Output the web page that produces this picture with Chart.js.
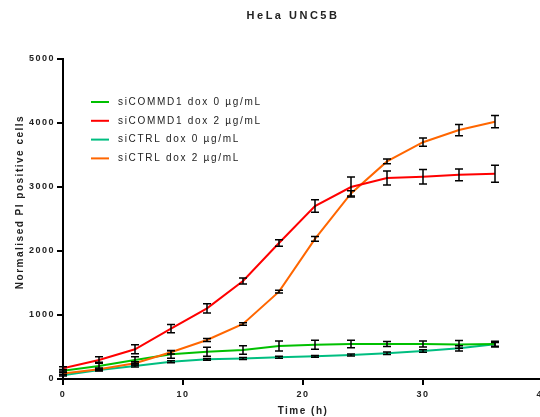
<!DOCTYPE html>
<html>
<head>
<meta charset="utf-8">
<script src="https://cdn.jsdelivr.net/npm/chart.js@4"></script>
<style>
  html, body { margin: 0; padding: 0; background: #fff; overflow: hidden; }
  #wrap { width: 540px; height: 417px; overflow: hidden; }
</style>
</head>
<body>
<div id="wrap"><canvas id="myChart" width="560" height="417"></canvas></div>
<script>
// time points (h)
const hours = [0, 3, 6, 9, 12, 15, 18, 21, 24, 27, 30, 33, 36];

// mean values
const commd1Dox0 = [130, 203, 297, 386, 427, 453, 516, 536, 547, 547, 547, 540, 545];
const commd1Dox2 = [166, 297, 464, 786, 1104, 1531, 2125, 2703, 3000, 3140, 3160, 3190, 3208];
const ctrlDox0 = [60, 140, 203, 270, 307, 320, 339, 354, 375, 401, 437, 479, 542];
const ctrlDox2 = [85, 151, 245, 417, 609, 859, 1365, 2190, 2900, 3400, 3700, 3890, 4020];

// error bar half heights
const commd1Dox0Err = [20, 60, 52, 60, 70, 65, 78, 70, 60, 40, 47, 60, 45];
const commd1Dox2Err = [25, 50, 70, 65, 73, 47, 52, 99, 156, 110, 115, 91, 133];
const ctrlDox0Err = [15, 15, 15, 15, 15, 15, 15, 15, 15, 20, 20, 40, 30];
const ctrlDox2Err = [20, 20, 25, 25, 25, 20, 20, 36, 42, 36, 65, 88, 96];

const seriesNames = ['siCOMMD1 dox 0 µg/mL', 'siCOMMD1 dox 2 µg/mL', 'siCTRL dox 0 µg/mL', 'siCTRL dox 2 µg/mL'];
const seriesValues = [commd1Dox0, commd1Dox2, ctrlDox0, ctrlDox2];
const seriesErrors = [commd1Dox0Err, commd1Dox2Err, ctrlDox0Err, ctrlDox2Err];
const seriesColors = ['rgb(0, 192, 0)', 'rgb(255, 0, 0)', 'rgb(0, 190, 128)', 'rgb(255, 102, 0)'];

const FONT = '"Liberation Sans", Arial, sans-serif';

// Chart.js has no letter spacing option, so set it on the context
const spacing = {
    id: 'spacing',
    beforeUpdate(chart) { chart.ctx.letterSpacing = '1.5px'; },
    beforeDraw(chart) { chart.ctx.letterSpacing = '1.5px'; }
};

const errorBars = {
    id: 'errorBars',
    afterDatasetsDraw(chart) {
        const { ctx, scales: { x, y } } = chart;
        ctx.save();
        ctx.strokeStyle = '#000';
        ctx.lineWidth = 1.5;
        seriesValues.forEach((vals, i) => {
            vals.forEach((v, j) => {
                const px = x.getPixelForValue(hours[j]);
                const top = y.getPixelForValue(v + seriesErrors[i][j]);
                const bot = y.getPixelForValue(v - seriesErrors[i][j]);
                ctx.beginPath();
                ctx.moveTo(px, top); ctx.lineTo(px, bot);
                ctx.moveTo(px - 4, top); ctx.lineTo(px + 4, top);
                ctx.moveTo(px - 4, bot); ctx.lineTo(px + 4, bot);
                ctx.stroke();
            });
        });
        ctx.restore();
    }
};

// title, y axis title and the in-plot legend
const extras = {
    id: 'extras',
    afterDraw(chart) {
        const ctx = chart.ctx;
        const area = chart.chartArea;
        ctx.save();
        ctx.fillStyle = '#222';
        ctx.textAlign = 'center';
        ctx.textBaseline = 'middle';

        ctx.letterSpacing = '2.5px';
        ctx.font = 'bold 11px ' + FONT;
        ctx.fillText('HeLa UNC5B', 293, 16);

        ctx.letterSpacing = '1.5px';
        ctx.font = 'bold 10px ' + FONT;
        ctx.save();
        ctx.translate(20, 202);
        ctx.rotate(-Math.PI / 2);
        ctx.fillText('Normalised PI positive cells', 0, 0);
        ctx.restore();

        ctx.letterSpacing = '1.7px';
        ctx.font = '10px ' + FONT;
        ctx.textAlign = 'left';
        seriesNames.forEach((name, i) => {
            const yy = area.top + 43 + i * 18.8;
            ctx.strokeStyle = seriesColors[i];
            ctx.lineWidth = 2;
            ctx.beginPath();
            ctx.moveTo(area.left + 28, yy);
            ctx.lineTo(area.left + 46, yy);
            ctx.stroke();
            ctx.fillStyle = '#222';
            ctx.fillText(name, area.left + 55, yy);
        });
        ctx.restore();
    }
};

const ctx = document.getElementById('myChart');
const myChart = new Chart(ctx, {
    type: 'line',
    data: {
        datasets: seriesValues.map((vals, i) => ({
            label: seriesNames[i],
            data: vals.map((v, j) => ({ x: hours[j], y: v })),
            borderColor: seriesColors[i],
            backgroundColor: seriesColors[i],
            borderWidth: 2,
            pointRadius: 0,
            tension: 0,
            order: [2, 0, 3, 1][i]
        }))
    },
    options: {
        responsive: false,
        animation: false,
        devicePixelRatio: 1,
        layout: {
            padding: { top: 59, right: 17, left: 0, bottom: 0 }
        },
        plugins: {
            legend: { display: false },
            title: { display: false },
            tooltip: { enabled: false }
        },
        scales: {
            x: {
                type: 'linear',
                min: 0,
                max: 40,
                border: { color: '#000', width: 2 },
                grid: { drawOnChartArea: false, color: '#000', lineWidth: 2, tickLength: 6 },
                ticks: {
                    stepSize: 10,
                    padding: 4,
                    color: '#222',
                    maxRotation: 0,
                    callback: (v) => String(v),
                    font: { family: FONT, size: 9, weight: 'bold' }
                },
                title: {
                    display: true,
                    text: 'Time (h)',
                    color: '#222',
                    padding: { top: 0, bottom: 0 },
                    font: { family: FONT, size: 10, weight: 'bold' }
                },
                afterFit(scale) { scale.height = 38; }
            },
            y: {
                min: 0,
                max: 5000,
                border: { color: '#000', width: 2 },
                grid: { drawOnChartArea: false, color: '#000', lineWidth: 2, tickLength: 6 },
                ticks: {
                    stepSize: 1000,
                    padding: 2,
                    color: '#222',
                    callback: (v) => String(v),
                    font: { family: FONT, size: 9, weight: 'bold' }
                },
                afterFit(scale) { scale.width = 63; }
            }
        }
    },
    plugins: [spacing, errorBars, extras]
});
</script>
</body>
</html>
